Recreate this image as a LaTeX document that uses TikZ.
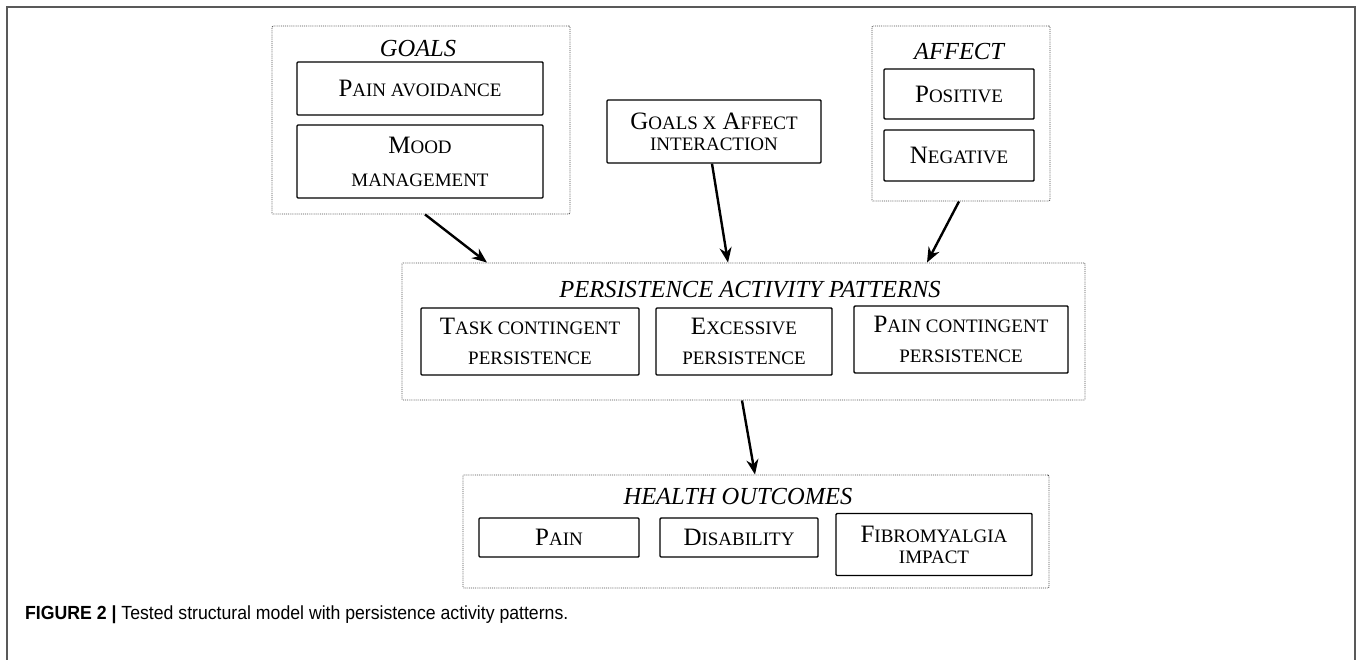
\documentclass[tikz,border=0pt]{standalone}
\usepackage{fontspec}
\setmainfont{Liberation Serif}
\newfontfamily\capfont{Liberation Sans}
\usetikzlibrary{arrows.meta}
\newcommand\smc[1]{{\fontsize{19}{20}\selectfont #1}}
\tikzset{
  group/.style={draw=black!70, densely dotted, line width=0.9pt, rounded corners=1pt, inner sep=0pt},
  item/.style={draw=black, line width=1.4pt, rounded corners=1pt, align=center, inner sep=0pt,
    font=\fontsize{25}{30}\selectfont},
  tight/.style={font=\fontsize{25}{21}\selectfont},
  title/.style={font=\fontsize{24.5}{26}\selectfont\itshape, inner sep=0pt},
  conn/.style={line width=2.4pt, -{Stealth[length=15pt,width=12pt]}},
}
\begin{document}
\begin{tikzpicture}[x=1pt,y=-1pt]
\useasboundingbox (0,0) rectangle (1357,660);
\draw[line width=1.5pt, black!65] (7,660) -- (7,7) -- (1355,7) -- (1355,660);

% Goals
\node[group, minimum width=298pt, minimum height=188pt] (goals) at (421,120) {};
\node[title] (goalsl) at (418,49) {GOALS};
\node[item, minimum width=246pt, minimum height=53pt] (painav) at (420,88.5) {P\smc{AIN AVOIDANCE}};
\node[item, minimum width=246pt, minimum height=73pt] (mood) at (420,161.5) {M\smc{OOD}\\[3pt]\smc{MANAGEMENT}};

% Interaction
\node[item, tight, minimum width=214pt, minimum height=63pt] (gxa) at (714,131.5) {G\smc{OALS X} A\smc{FFECT}\\\smc{INTERACTION}};

% Affect
\node[group, minimum width=178pt, minimum height=175pt] (affect) at (961,113.5) {};
\node[title] (affectl) at (959,52) {AFFECT};
\node[item, minimum width=150pt, minimum height=50pt] (pos) at (959,94) {P\smc{OSITIVE}};
\node[item, minimum width=150pt, minimum height=51pt] (neg) at (959,155.5) {N\smc{EGATIVE}};

% Persistence
\node[group, minimum width=683pt, minimum height=137pt] (pap) at (743.5,331.5) {};
\node[title] (papl) at (750,290) {PERSISTENCE ACTIVITY PATTERNS};
\node[item, minimum width=218pt, minimum height=67pt] (task) at (530,341.5) {T\smc{ASK CONTINGENT}\\\smc{PERSISTENCE}};
\node[item, minimum width=176pt, minimum height=67pt] (exc) at (744,341.5) {E\smc{XCESSIVE}\\\smc{PERSISTENCE}};
\node[item, minimum width=214pt, minimum height=67pt] (painc) at (961,339.5) {P\smc{AIN CONTINGENT}\\\smc{PERSISTENCE}};

% Health outcomes
\node[group, minimum width=586pt, minimum height=113pt] (ho) at (756,531.5) {};
\node[title] (hol) at (738,497) {HEALTH OUTCOMES};
\node[item, minimum width=160pt, minimum height=39pt] (pain) at (559,537.5) {P\smc{AIN}};
\node[item, minimum width=158pt, minimum height=39pt] (dis) at (739,537.5) {D\smc{ISABILITY}};
\node[item, tight, minimum width=196pt, minimum height=62pt] (fib) at (934,544.5) {F\smc{IBROMYALGIA}\\\smc{IMPACT}};

% Connectors
\draw[conn] ([xshift=4pt]goals.south) -- ([xshift=-256.5pt]pap.north);
\draw[conn] ([xshift=-2pt]gxa.south) -- ([xshift=-15.5pt]pap.north);
\draw[conn] ([xshift=-2pt]affect.south) -- ([xshift=183.5pt]pap.north);
\draw[conn] ([xshift=-1.5pt]pap.south) -- ([xshift=-1pt]ho.north);

% Caption
\node[anchor=base west, inner sep=0pt] (cap) at (25,619) {\capfont\fontsize{19}{20}\selectfont\scalebox{0.93}[1]{\textbf{FIGURE 2 |} Tested structural model with persistence activity patterns.}};
\end{tikzpicture}
\end{document}
